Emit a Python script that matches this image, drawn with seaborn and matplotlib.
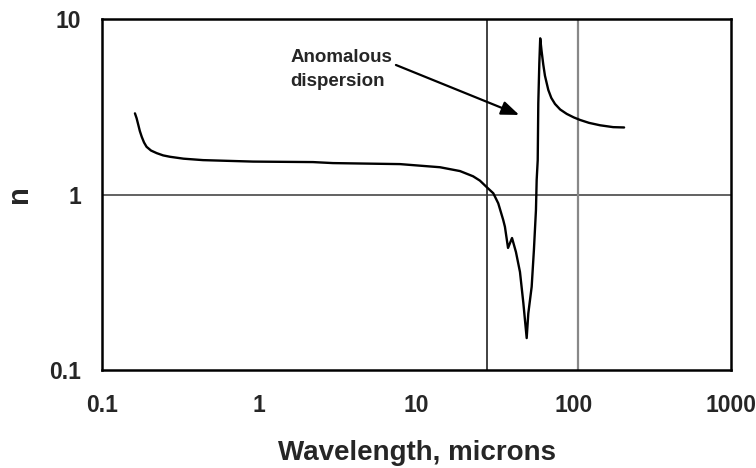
import matplotlib
matplotlib.use("Agg")
import matplotlib.pyplot as plt
import seaborn as sns
import pandas as pd

# ---- data ----
wavelength = [0.162, 0.166, 0.170, 0.174, 0.179, 0.185, 0.192, 0.205, 0.223, 0.245,
              0.271, 0.33, 0.439, 0.913, 2.20, 2.94,
              7.85, 14.1, 18.9, 22.9, 25.3, 28.0, 30.8, 33.1, 35.6, 36.5,
              38.2, 40.5, 42.9, 45.5, 47.8, 50.2, 51.4, 54.0, 55.8, 57.5,
              58.1, 59.0, 59.5, 60.4, 61.2, 62.4, 64.0, 65.6, 68.9, 72.0, 76.0, 82.0, 90.2,
              100.0, 109.6, 125.0, 147, 178, 209]
n_index = [2.90, 2.72, 2.50, 2.30, 2.13, 1.98, 1.87, 1.78, 1.72, 1.67,
           1.64, 1.60, 1.57, 1.54, 1.53, 1.51,
           1.49, 1.43, 1.36, 1.27, 1.20, 1.10, 1.016, 0.891, 0.716, 0.655,
           0.496, 0.565, 0.470, 0.362, 0.241, 0.152, 0.210, 0.298, 0.483, 0.816,
           1.21, 1.57, 3.31, 5.59, 7.76, 6.60, 5.50, 4.75, 3.94, 3.55, 3.28, 3.05, 2.88,
           2.75, 2.66, 2.56, 2.48, 2.42, 2.41]
ref_lines_x = [28.0, 106.0]
x_ticks = [0.1, 1, 10, 100, 1000]
x_tick_labels = ["0.1", "1", "10", "100", "1000"]
y_ticks = [0.1, 1, 10]
y_tick_labels = ["0.1", "1", "10"]
annotation_text = "Anomalous\ndispersion"
annotation_pos = (1.57, 5.15)
arrow_tip = (45.0, 2.84)
arrow_tail = (7.4, 5.47)

df = pd.DataFrame({"wavelength": wavelength, "n": n_index})

sns.set_theme(style="white")
plt.rcParams["font.family"] = ["Liberation Sans", "DejaVu Sans"]
plt.rcParams["font.weight"] = "bold"

fig = plt.figure(figsize=(7.56, 4.68), dpi=100)
ax = fig.add_axes([102 / 756, 1 - 370 / 468, (731 - 102) / 756, (370 - 19) / 468])

ax.set_xscale("log")
ax.set_yscale("log")
ax.set_xlim(0.1, 1000)
ax.set_ylim(0.1, 10)

ax.axhline(1, color="#555555", lw=1.3, zorder=1)
ax.axvline(ref_lines_x[0], color="#333333", lw=1.3, zorder=1)
ax.axvline(ref_lines_x[1], color="#888888", lw=1.6, zorder=1)

sns.lineplot(data=df, x="wavelength", y="n", ax=ax, color="black", lw=1.7,
             sort=False, estimator=None, zorder=3)

ax.set_xticks(x_ticks)
ax.set_xticklabels(x_tick_labels)
ax.set_yticks(y_ticks)
ax.set_yticklabels(y_tick_labels)
ax.minorticks_off()
ax.tick_params(axis="x", direction="in", length=4, width=1.3, color="black",
               pad=17, labelsize=16.5)
ax.tick_params(axis="y", direction="in", length=0, pad=15, labelsize=16.5)
for lab in ax.get_xticklabels() + ax.get_yticklabels():
    lab.set_fontweight("bold")

for s in ax.spines.values():
    s.set_visible(True)
    s.set_color("black")
    s.set_linewidth(1.8)

ax.set_xlabel("Wavelength, microns", fontsize=20, fontweight="bold", labelpad=17)
ax.set_ylabel("n", fontsize=21, fontweight="bold", labelpad=12)

ax.annotate("", xy=arrow_tip, xytext=arrow_tail,
            arrowprops=dict(arrowstyle="-|>,head_length=0.9,head_width=0.35",
                            color="black", lw=1.6, shrinkA=0, shrinkB=0))
ax.text(annotation_pos[0], annotation_pos[1], annotation_text, fontsize=13.5,
        fontweight="bold", ha="left", va="center", linespacing=1.5)

fig.savefig("out.png", dpi=100)
